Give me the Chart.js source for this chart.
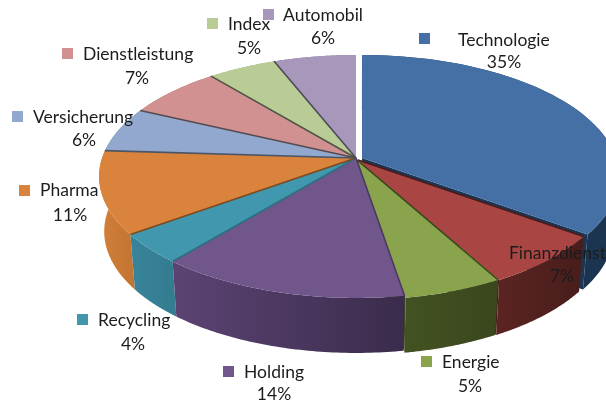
<!DOCTYPE html>
<html>
<head>
<meta charset="utf-8">
<style>
body { margin: 0; background: #fff; }
canvas { display: block; }
</style>
<script src="https://cdn.jsdelivr.net/npm/chart.js@4"></script>
</head>
<body>
<canvas id="kuchen" width="606" height="406"></canvas>
<script>
const categories = ['Technologie', 'Finanzdienst', 'Energie', 'Holding', 'Recycling', 'Pharma', 'Versicherung', 'Dienstleistung', 'Index', 'Automobil'];
const values = [35, 7, 5.4, 13.6, 4, 11, 6, 7, 5, 6];
const percent_labels = ['35%', '7%', '5%', '14%', '4%', '11%', '6%', '7%', '5%', '6%'];

const top_colors = ['#4470a6', '#a94543', '#89a44d', '#71568c', '#4097ae', '#da833c', '#92a8ce', '#d09190', '#b9cc95', '#a798bb'];
const wall_left = ['#24426b', '#5a2422', '#435222', '#5c4373', '#38849a', '#d07e39', '#7d8fb0', '#b07a79', '#9dae7e', '#8e81a0'];
const wall_right = ['#1b3450', '#481d1b', '#3a461d', '#3a2c4c', '#347c90', '#c47532', '#7d8fb0', '#b07a79', '#9dae7e', '#8e81a0'];
const edge_colors = ['#1d3553', '#4a1c1a', '#3c4c1c', '#4b3a60', '#2c6f80', '#7d4a20', '#4c5566', '#544c50', '#4f5346', '#4c4a58'];
// how far each slice is pulled out of the pie, in px
const pull_x = [6, 2, 1, 0, 0, 0, 0, 0, 0, 0];
const pull_y = [0, 2, 2, 0, 0, 0, 0, 0, 0, 0];

// key square x,y / name left,y / percent centre,y
const key_pos = [[419, 33], [475, 240], [421, 356], [223, 366], [77, 314], [19, 185], [12, 111], [62, 48], [207, 18], [263, 9]];
const name_pos = [[458, 40], [509, 253], [442, 362], [244, 372], [98, 320], [40, 190], [33, 117], [83, 54], [228, 24], [283, 15]];
const pct_pos = [[504, 62], [562, 276], [470, 386], [274, 394], [133, 344], [70, 215], [84, 140], [137, 78], [249, 48], [323, 38]];

const perspektiva = 0.152;
const visina = 55;
const spodaj = 0.98;
const radij = 150;

function tocka(el, i, kot, dolzina, lower) {
    const u = Math.cos(kot) * dolzina;
    const v = Math.sin(kot) * dolzina;
    const d = 1 - perspektiva * v;
    let x = radij * 1.693 * u / d + pull_x[i];
    let y = radij * 0.791 * v / d + pull_y[i];
    if (lower) {
        x = x * spodaj;
        y = y + visina;
    }
    return [el.x + x, el.y + y];
}

function dodaj(ctx, tocke) {
    tocke.forEach((t, i) => i ? ctx.lineTo(t[0], t[1]) : ctx.moveTo(t[0], t[1]));
    ctx.closePath();
}

function lok(el, i, lower) {
    const n = 60;
    const tocke = [];
    for (let k = 0; k <= n; k++) {
        tocke.push(tocka(el, i, el.startAngle + (el.endAngle - el.startAngle) * k / n, 1, lower));
    }
    return tocke;
}

const kuchen3d = {
    id: 'kuchen3d',
    beforeDatasetsDraw(chart) {
        const ctx = chart.ctx;
        const arcs = chart.getDatasetMeta(0).data;
        const vrstni = arcs.map((el, i) => i).sort((a, b) => {
            return Math.sin((arcs[a].startAngle + arcs[a].endAngle) / 2) - Math.sin((arcs[b].startAngle + arcs[b].endAngle) / 2);
        });
        ctx.save();
        vrstni.forEach(i => {
            const el = arcs[i];
            const zg = lok(el, i, false);
            const sp = lok(el, i, true);
            // the cut face only shows on slices pulled out of the pie
            if (pull_x[i] + pull_y[i] > 0) {
                ctx.fillStyle = edge_colors[i];
                ctx.beginPath();
                dodaj(ctx, [tocka(el, i, 0, 0, false), zg[60], sp[60], tocka(el, i, 0, 0, true)]);
                ctx.fill();
            }
            const grad = ctx.createLinearGradient(Math.min(zg[0][0], zg[60][0]), 0, Math.max(zg[0][0], zg[60][0]), 0);
            grad.addColorStop(0, wall_left[i]);
            grad.addColorStop(1, wall_right[i]);
            ctx.fillStyle = grad;
            ctx.beginPath();
            for (let k = 0; k < 60; k++) {
                dodaj(ctx, [zg[k], zg[k + 1], sp[k + 1], sp[k]]);
            }
            ctx.fill();
        });
        arcs.forEach((el, i) => {
            ctx.fillStyle = el.options.backgroundColor;
            ctx.beginPath();
            dodaj(ctx, [tocka(el, i, 0, 0, false)].concat(lok(el, i, false)));
            ctx.fill();
        });
        ctx.lineWidth = 1.6;
        arcs.forEach((el, i) => {
            const zg = lok(el, i, false);
            const c0 = tocka(el, i, 0, 0, false);
            ctx.strokeStyle = edge_colors[i];
            if (i > 0) {
                ctx.beginPath();
                ctx.moveTo(c0[0], c0[1]);
                ctx.lineTo(zg[0][0], zg[0][1]);
                ctx.stroke();
            }
        });
        ctx.restore();
        return false;
    },
    afterDraw(chart) {
        const ctx = chart.ctx;
        ctx.save();
        ctx.font = '17.5px Lato';
        ctx.textBaseline = 'middle';
        categories.forEach((name, i) => {
            ctx.fillStyle = top_colors[i];
            ctx.fillRect(key_pos[i][0], key_pos[i][1], 11, 11);
            ctx.fillStyle = '#1c1c1c';
            ctx.textAlign = 'left';
            ctx.fillText(name, name_pos[i][0], name_pos[i][1]);
            ctx.textAlign = 'center';
            ctx.fillText(percent_labels[i], pct_pos[i][0], pct_pos[i][1]);
        });
        ctx.restore();
    }
};

const graf = new Chart(document.getElementById('kuchen').getContext('2d'), {
    type: 'pie',
    data: {
        labels: categories,
        datasets: [{
            data: values,
            backgroundColor: top_colors,
            borderWidth: 0
        }]
    },
    options: {
        responsive: false,
        animation: false,
        radius: radij,
        layout: { padding: { left: 106, bottom: 90 } },
        plugins: {
            legend: { display: false },
            tooltip: { enabled: false }
        }
    },
    plugins: [kuchen3d]
});
</script>
</body>
</html>
